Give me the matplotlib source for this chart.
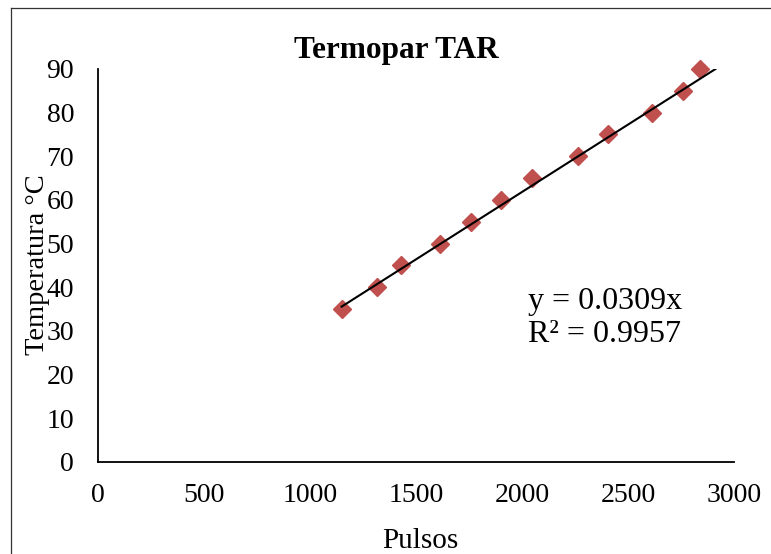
import matplotlib

matplotlib.use("Agg")
import matplotlib.pyplot as plt
import numpy as np
from matplotlib.lines import Line2D

plt.rcParams["font.family"] = ["Liberation Serif", "DejaVu Serif"]

# Termopar TAR calibration points
pulsos = [1150, 1318, 1429, 1614, 1759, 1900, 2046, 2263, 2407, 2615, 2761, 2839]
temperatura = [35, 40, 45, 50, 55, 60, 65, 70, 75, 80, 85, 90]
slope = 0.0309
r2 = 0.9957
x_ticks = [0, 500, 1000, 1500, 2000, 2500, 3000]
y_ticks = [0, 10, 20, 30, 40, 50, 60, 70, 80, 90]

W, H = 771, 554
fig = plt.figure(figsize=(W / 100, H / 100), dpi=100)
ax = fig.add_axes([97.7 / W, 1 - 461.7 / H, (734 - 97.7) / W, (461.7 - 69) / H])

ax.plot(pulsos, temperatura, linestyle="none", marker="D", markersize=9.5,
        color="#C0504D", zorder=3, clip_on=False)

# trendline through origin, clipped at the top of the axes
x_fit = np.array([min(pulsos), 90 / slope])
ax.plot(x_fit, slope * x_fit, color="black", linewidth=1.5, zorder=4)

ax.set_xlim(0, 3000)
ax.set_ylim(0, 90)
ax.set_xticks(x_ticks)
ax.set_yticks(y_ticks)
ax.tick_params(length=0, labelsize=20)
ax.tick_params(axis="y", pad=17)
ax.tick_params(axis="x", pad=15)
for side in ["top", "right"]:
    ax.spines[side].set_visible(False)
for side in ["left", "bottom"]:
    ax.spines[side].set_linewidth(1.3)
    ax.spines[side].set_color("black")

fig.text(396 / W, 1 - 58.3 / H, "Termopar TAR", ha="center", va="baseline",
         fontsize=22.5, fontweight="bold")
fig.text(420 / W, 1 - 547.7 / H, "Pulsos", ha="center", va="baseline", fontsize=21)
fig.text(44 / W, 1 - 265 / H, "Temperatura °C", ha="center", va="baseline",
         rotation=90, rotation_mode="anchor", fontsize=20.5)

fig.text(528 / W, 1 - 309 / H, f"y = {slope:.4f}x", ha="left", va="baseline", fontsize=23)
fig.text(528 / W, 1 - 342 / H, f"R² = {r2:.4f}", ha="left", va="baseline", fontsize=23)

# chart area border (only top and left edges fall inside the image)
fig.add_artist(Line2D([11 / W, 1.01], [1 - 7.5 / H, 1 - 7.5 / H], color="#333333", linewidth=0.9))
fig.add_artist(Line2D([11 / W, 11 / W], [-0.01, 1 - 7.5 / H], color="#333333", linewidth=0.9))

fig.savefig("out.png", dpi=100)
